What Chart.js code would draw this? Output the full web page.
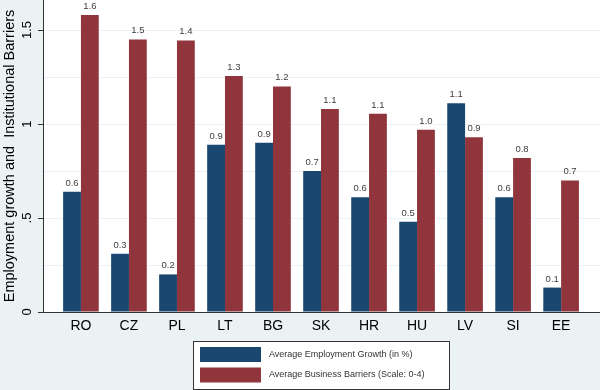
<!DOCTYPE html>
<html>
<head>
<meta charset="utf-8">
<script src="https://cdn.jsdelivr.net/npm/chart.js@4.4.1/dist/chart.umd.min.js"></script>
<style>
  html, body { margin: 0; padding: 0; background: #eaf2f3; }
  #wrap { width: 600px; height: 390px; position: relative; }
</style>
</head>
<body>
<div id="wrap"><canvas id="chart"></canvas></div>
<script>
const countries = ["RO", "CZ", "PL", "LT", "BG", "SK", "HR", "HU", "LV", "SI", "EE"];
const employmentGrowth = [0.64, 0.31, 0.2, 0.89, 0.9, 0.75, 0.61, 0.48, 1.11, 0.61, 0.13];
const businessBarriers = [1.58, 1.45, 1.445, 1.255, 1.2, 1.08, 1.055, 0.97, 0.93, 0.82, 0.7];
const employmentLabels = ["0.6", "0.3", "0.2", "0.9", "0.9", "0.7", "0.6", "0.5", "1.1", "0.6", "0.1"];
const barrierLabels = ["1.6", "1.5", "1.4", "1.3", "1.2", "1.1", "1.1", "1.0", "0.9", "0.8", "0.7"];
const yTickLabels = { 0: "0", 0.5: ".5", 1: "1", 1.5: "1.5" };

const FONT = "'Liberation Sans', Arial, sans-serif";
const BLUE = "#1a476f";
const RED = "#90353b";
const AXIS = "#333333";

// background + white plot region
const bgPlugin = {
  id: "bg",
  beforeDraw(chart) {
    const { ctx, chartArea } = chart;
    ctx.save();
    ctx.fillStyle = "#eaf2f3";
    ctx.fillRect(0, 0, chart.width, chart.height);
    ctx.fillStyle = "#ffffff";
    ctx.fillRect(chartArea.left, chartArea.top, chartArea.right - chartArea.left, chartArea.bottom - chartArea.top);
    ctx.restore();
  },
};

// value labels above the bars
const valueLabels = {
  id: "valueLabels",
  afterDatasetsDraw(chart) {
    const { ctx } = chart;
    const texts = [employmentLabels, barrierLabels];
    ctx.save();
    ctx.font = "9.5px " + FONT;
    ctx.fillStyle = "#404040";
    ctx.textAlign = "center";
    ctx.textBaseline = "alphabetic";
    chart.data.datasets.forEach((ds, di) => {
      chart.getDatasetMeta(di).data.forEach((bar, i) => {
        ctx.fillText(texts[di][i], bar.x, bar.y - 6);
      });
    });
    ctx.restore();
  },
};

// legend box under the axis
const legendBox = {
  id: "legendBox",
  afterDraw(chart) {
    const { ctx } = chart;
    const bx = 193, by = 341, bw = 256, bh = 48;
    ctx.save();
    ctx.fillStyle = "#ffffff";
    ctx.fillRect(bx, by, bw, bh);
    ctx.strokeStyle = AXIS;
    ctx.lineWidth = 1;
    ctx.strokeRect(bx + 0.5, by + 0.5, bw, bh);
    chart.data.datasets.forEach((ds, i) => {
      const y = by + 6 + i * 20.5;
      ctx.fillStyle = ds.backgroundColor;
      ctx.fillRect(bx + 7, y, 61, 15);
      ctx.fillStyle = "#333333";
      ctx.font = "9px " + FONT;
      ctx.textBaseline = "middle";
      ctx.textAlign = "left";
      ctx.fillText(ds.label, bx + 76, y + 7.5);
    });
    ctx.restore();
  },
};

new Chart(document.getElementById("chart"), {
  type: "bar",
  data: {
    labels: countries,
    datasets: [
      { label: "Average Employment Growth (in %)", data: employmentGrowth, backgroundColor: BLUE },
      { label: "Average Business Barriers (Scale: 0-4)", data: businessBarriers, backgroundColor: RED },
    ],
  },
  options: {
    responsive: true,
    maintainAspectRatio: false,
    animation: false,
    layout: { padding: 0 },
    datasets: { bar: { categoryPercentage: 0.742, barPercentage: 1.0 } },
    plugins: {
      legend: { display: false },
      tooltip: { enabled: false },
    },
    scales: {
      x: {
        // spread the categories like the original (wider outer gaps)
        afterBuildTicks: (s) => { s._startValue = -0.79; s._valueRange = 11.6; },
        afterFit: (s) => { s.height = 78; s.paddingLeft = 0; s.paddingRight = 0; },
        grid: { display: false, drawTicks: false },
        border: { color: AXIS, width: 1 },
        ticks: { color: "#000", font: { family: FONT, size: 14 }, padding: 6 },
      },
      y: {
        min: 0,
        max: 1.66,
        afterFit: (s) => { s.width = 43; s.paddingTop = 0; s.paddingBottom = 0; },
        border: { color: AXIS, width: 1 },
        grid: {
          color: "#eaf2f3",
          tickLength: 5,
          tickColor: (c) => (c.tick && yTickLabels[c.tick.value] !== undefined ? AXIS : "rgba(0,0,0,0)"),
        },
        ticks: {
          stepSize: 0.25,
          includeBounds: false,
          minRotation: 90,
          maxRotation: 90,
          crossAlign: "center",
          padding: 2,
          color: "#000",
          font: { family: FONT, size: 13 },
          callback: (v) => (yTickLabels[v] !== undefined ? yTickLabels[v] : ""),
        },
        title: {
          display: true,
          text: "Employment growth and  Institutional Barriers",
          color: "#000",
          font: { family: FONT, size: 14.5 },
          padding: { top: 1, bottom: 0 },
        },
      },
    },
  },
  plugins: [bgPlugin, valueLabels, legendBox],
});
</script>
</body>
</html>
